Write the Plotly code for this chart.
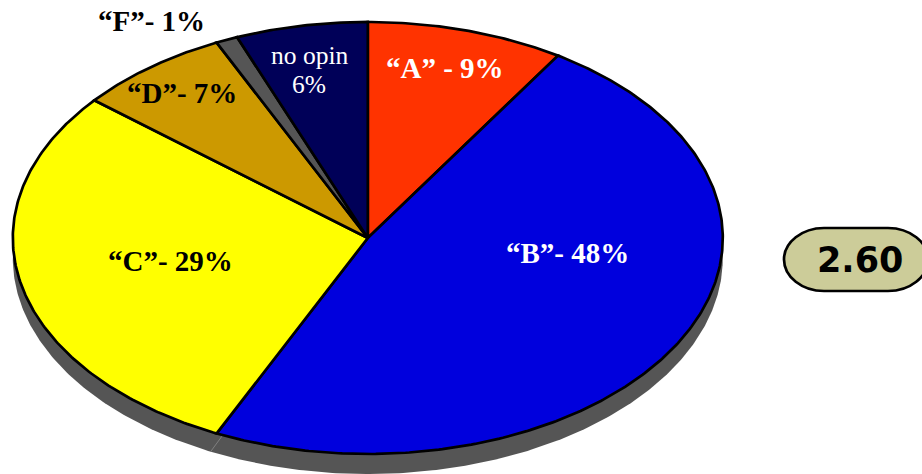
import numpy as np
import plotly.graph_objects as go

# Slices run clockwise from twelve o'clock
categories = ['"A"', '"B"', '"C"', '"D"', '"F"', "no opin"]
shares = [9, 48, 29, 7, 1, 6]
colors = ["#FF3300", "#0000DD", "#FFFF00", "#CC9900", "#555555", "#000058"]
labels = ["“A” - 9%", "“B”- 48%", "“C”- 29%", "“D”- 7%", "“F”- 1%", "no opin<br>6%"]
label_colors = ["white", "white", "black", "black", "black", "white"]
label_weights = [700, 700, 700, 700, 700, 400]
label_sizes = [29, 29, 29, 29, 29, 25.5]
label_px = [445, 567, 170.5, 182, 151.5, 309]
label_py = [68.5, 252.5, 260.5, 93.5, 21.5, 69.5]
average = "2.60"

W, H = 922, 474
CX, CY, RX, RY = 367.8, 238.0, 355.0, 216.0
DEPTH = 20.0 / RY
DARK = "#555555"
LINE_GAP = 29


def arc(start, stop):
    """Points on the unit circle between two cumulative percentages."""
    theta = 2 * np.pi * np.linspace(start, stop, max(int(abs(stop - start) * 6), 12)) / 100
    return np.sin(theta), np.cos(theta)


fig = go.Figure()

# Dark rim below the tilted disc
rx, ry = arc(0, 100)
fig.add_trace(go.Scatter(x=rx, y=ry - DEPTH, mode="lines", fill="toself", fillcolor=DARK,
                         line=dict(color=DARK, width=0), hoverinfo="skip", showlegend=False))

edges = np.concatenate([[0], np.cumsum(shares)])

# Thin slanted seam on the rim under the B/C boundary
top_x, top_y = arc(edges[2] - 0.3, edges[2] - 0.3)
low_x, low_y = arc(edges[2] + 0.3, edges[2] + 0.3)
fig.add_trace(go.Scatter(x=[top_x[0], low_x[0]], y=[top_y[0], low_y[0] - DEPTH], mode="lines",
                         line=dict(color="#8a8a8a", width=0.8), hoverinfo="skip", showlegend=False))

for name, start, stop, color in zip(categories, edges[:-1], edges[1:], colors):
    ax, ay = arc(start, stop)
    fig.add_trace(go.Scatter(
        x=np.concatenate([[0], ax, [0]]), y=np.concatenate([[0], ay, [0]]),
        mode="lines", fill="toself", fillcolor=color, name=name,
        line=dict(color="black", width=2.7), hoverinfo="name", showlegend=False,
    ))

for text, color, weight, size, px, py in zip(labels, label_colors, label_weights,
                                             label_sizes, label_px, label_py):
    lines = text.split("<br>")
    for i, line in enumerate(lines):
        offset = (i - (len(lines) - 1) / 2) * LINE_GAP
        fig.add_annotation(x=px / W, y=1 - (py + offset) / H, xref="paper", yref="paper", text=line,
                           showarrow=False, xanchor="center", yanchor="middle",
                           font=dict(family="Liberation Serif", size=size, color=color, weight=weight))

# Rounded badge holding the overall average
x0, x1, y0, y1 = 784 / W, 928 / W, 1 - 291 / H, 1 - 228 / H
kx, ky = 40 / W, (y1 - y0) / 2
ym = (y0 + y1) / 2
fig.add_shape(type="path", xref="paper", yref="paper",
              path=(f"M {x0 + kx} {y1} L {x1 - kx} {y1} "
                    f"C {x1 - kx * 0.45} {y1} {x1} {ym + ky * 0.55} {x1} {ym} "
                    f"C {x1} {ym - ky * 0.55} {x1 - kx * 0.45} {y0} {x1 - kx} {y0} "
                    f"L {x0 + kx} {y0} "
                    f"C {x0 + kx * 0.45} {y0} {x0} {ym - ky * 0.55} {x0} {ym} "
                    f"C {x0} {ym + ky * 0.55} {x0 + kx * 0.45} {y1} {x0 + kx} {y1} Z"),
              fillcolor="#CCCC99", line=dict(color="black", width=2.7))
fig.add_annotation(x=859.5 / W, y=1 - 260 / H, xref="paper", yref="paper", text=average,
                   showarrow=False, xanchor="center", yanchor="middle",
                   font=dict(family="DejaVu Sans", size=35, color="black", weight=700))

fig.update_layout(
    width=W, height=H, autosize=False,
    margin=dict(l=0, r=0, t=0, b=0),
    paper_bgcolor="white", plot_bgcolor="white",
    xaxis=dict(range=[-CX / RX, (W - CX) / RX], visible=False, fixedrange=True),
    yaxis=dict(range=[-(H - CY) / RY, CY / RY], visible=False, fixedrange=True),
)

fig.write_html("out.html", config={"displayModeBar": False})
